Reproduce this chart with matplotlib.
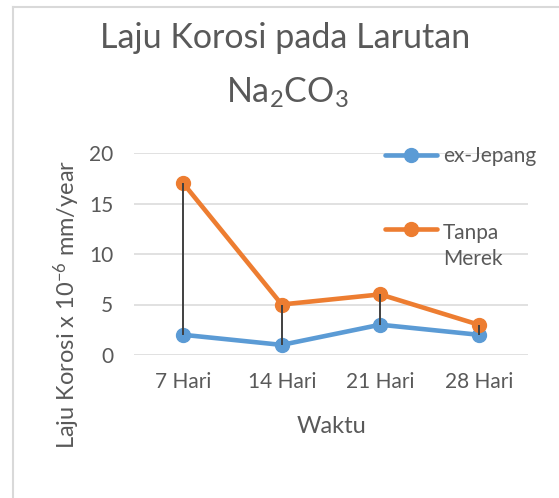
import matplotlib
matplotlib.use("Agg")
import matplotlib.pyplot as plt
from matplotlib.lines import Line2D

plt.rcParams['font.family'] = ['Lato', 'DejaVu Sans']
plt.rcParams['mathtext.fontset'] = 'custom'
plt.rcParams['mathtext.rm'] = 'Lato'
plt.rcParams['mathtext.it'] = 'Lato'
plt.rcParams['mathtext.default'] = 'regular'

categories = ["7 Hari", "14 Hari", "21 Hari", "28 Hari"]
ex_jepang = [2, 1, 3, 2]
tanpa_merek = [17, 5, 6, 3]
series_names = ["ex-Jepang", "Tanpa\nMerek"]
yticks = [0, 5, 10, 15, 20]

TXT = '#595959'
BLUE = '#5b9bd5'
ORANGE = '#ed7d31'
GRID = '#d9d9d9'

W, H = 559, 498
fig = plt.figure(figsize=(W / 100, H / 100), dpi=100)

def fx(px):
    return px / W

def fy(py):
    return 1 - py / H

ax = fig.add_axes([fx(134), fy(355), fx(528) - fx(134), fy(153) - fy(355)])
x = list(range(len(categories)))
ax.plot(x, ex_jepang, color=BLUE, lw=3.3, marker='o', ms=10, solid_capstyle='round', zorder=3)
ax.plot(x, tanpa_merek, color=ORANGE, lw=3.3, marker='o', ms=10, solid_capstyle='round', zorder=3)
lo = [min(a, b) for a, b in zip(ex_jepang, tanpa_merek)]
hi = [max(a, b) for a, b in zip(ex_jepang, tanpa_merek)]
ax.vlines(x, lo, hi, color='#404040', lw=1.4, zorder=4)

ax.set_xlim(-0.5, len(categories) - 0.5)
ax.set_ylim(0, 20)
ax.set_yticks(yticks)
ax.set_xticks(x)
ax.set_xticklabels(categories)
ax.yaxis.grid(True, color=GRID, lw=1.1)
ax.set_axisbelow(True)
for s in ax.spines.values():
    s.set_visible(False)
ax.tick_params(axis='both', length=0, labelsize=15, colors=TXT)
ax.tick_params(axis='y', pad=15)
ax.tick_params(axis='x', pad=12)

fig.text(fx(332), fy(433), "Waktu", ha='center', va='baseline', fontsize=17, color=TXT)

fig.text(fx(67), fy(304), "Laju Korosi x 10$^{-6}$ mm/year", rotation=90,
         ha='center', va='center', fontsize=17, color=TXT)

fig.text(fx(285), fy(48), "Laju Korosi pada Larutan", ha='center', va='baseline',
         fontsize=24.5, color=TXT)
fig.text(fx(287), fy(103), "Na$_2$CO$_3$", ha='center', va='baseline',
         fontsize=24.5, color=TXT)

# legend drawn manually
leg_y = [155, 229]
for name, col, yy in zip(series_names, [BLUE, ORANGE], leg_y):
    fig.add_artist(Line2D([fx(385), fx(437)], [fy(yy), fy(yy)], transform=fig.transFigure,
                          color=col, lw=3.3, solid_capstyle='round'))
    fig.add_artist(Line2D([fx(411)], [fy(yy)], transform=fig.transFigure,
                          color=col, marker='o', ms=10))
    nlines = name.count("\n") + 1
    fig.text(fx(443), fy(yy + 7 + (nlines - 1) * 29), name, ha='left', va='baseline',
             fontsize=15, color=TXT, linespacing=1.35)

# chart border (left and top visible)
fig.add_artist(Line2D([fx(13), fx(13)], [fy(7), 0], transform=fig.transFigure,
                      color=GRID, lw=1.5))
fig.add_artist(Line2D([fx(13), 1], [fy(7), fy(7)], transform=fig.transFigure,
                      color=GRID, lw=1.5))

fig.savefig("out.png", dpi=100)
